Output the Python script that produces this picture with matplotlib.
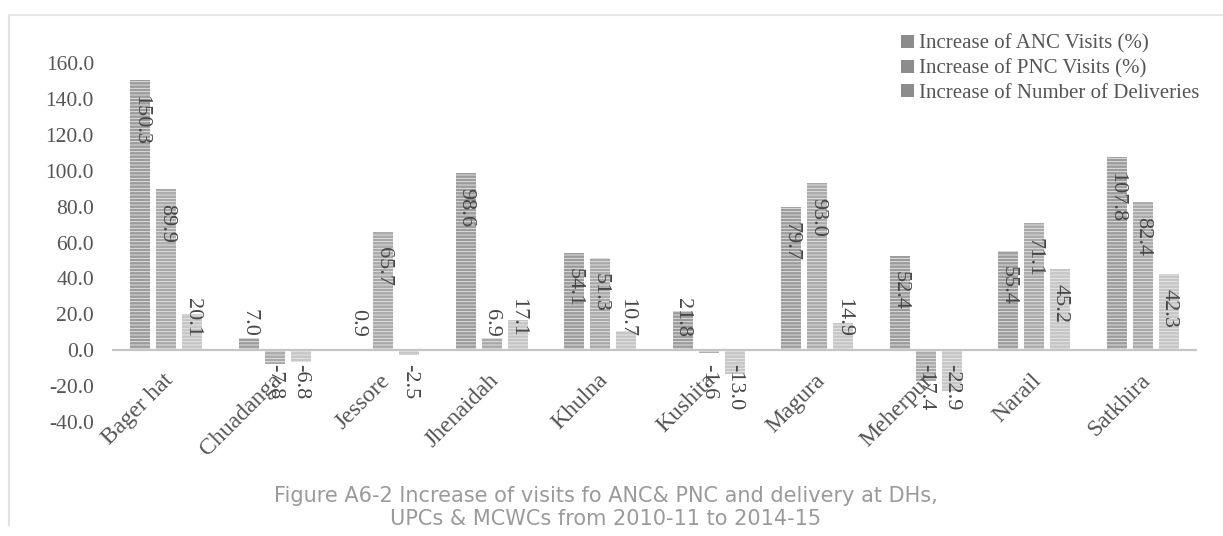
import numpy as np
import matplotlib.pyplot as plt
from matplotlib.patches import Patch
from matplotlib.lines import Line2D

# === Data ===
districts = ["Bager hat", "Chuadanga", "Jessore", "Jhenaidah", "Khulna",
             "Kushita", "Magura", "Meherpur", "Narail", "Satkhira"]
anc_visits = [150.3, 7.0, 0.9, 98.6, 54.1, 21.8, 79.7, 52.4, 55.4, 107.8]
pnc_visits = [89.9, -7.8, 65.7, 6.9, 51.3, -1.6, 93.0, -17.4, 71.1, 82.4]
deliveries = [20.1, -6.8, -2.5, 17.1, 10.7, -13.0, 14.9, -22.9, 45.2, 42.3]
series_names = ["Increase of ANC Visits (%)", "Increase of PNC Visits (%)",
                "Increase of Number of Deliveries"]
yticks = np.arange(-40, 161, 20)

plt.rcParams['font.family'] = ['Liberation Serif', 'DejaVu Serif']
plt.rcParams['hatch.linewidth'] = 0.6

colors = ["#9c9c9c", "#a9a9a9", "#c6c6c6"]
label_color = "#474747"

fig = plt.figure(figsize=(12.23, 5.36), dpi=100)
ax = fig.add_axes([112 / 1223, 114 / 536, 1085 / 1223, 359 / 536])

x = np.arange(len(districts))
offsets = [-0.24, 0.0, 0.24]
width = 0.185

for vals, off, col in zip([anc_visits, pnc_visits, deliveries], offsets, colors):
    ax.bar(x + off, vals, width, color=col, edgecolor="#e8e8e8",
           linewidth=0, hatch="-----", zorder=2)
    for xi, v in zip(x + off, vals):
        txt = f"{v:.1f}"
        if v >= 38:
            ax.text(xi, v - 8.4, txt, rotation=270, ha="center", va="top",
                    fontsize=16, color=label_color, zorder=4)
        elif v >= 0:
            ax.text(xi, 7.5, txt, rotation=270, ha="center", va="bottom",
                    fontsize=16, color=label_color, zorder=4)
        else:
            ax.text(xi, -7.5, txt, rotation=270, ha="center", va="top",
                    fontsize=16, color=label_color, zorder=4)

# zero line
ax.axhline(0, color="#c4c4c4", linewidth=1.6, zorder=3)

ax.set_xlim(-0.5, len(districts) - 0.5)
ax.set_ylim(-40, 160)
ax.set_yticks(yticks)
ax.set_yticklabels([f"{t:.1f}" for t in yticks], fontsize=15.5, color="#555555")
ax.tick_params(axis="y", length=0, pad=13)
ax.set_xticks([])
for s in ax.spines.values():
    s.set_visible(False)

for xi, name in zip(x, districts):
    ax.text(xi - 0.03, -11, name, rotation=45, rotation_mode="anchor",
            ha="right", va="top", fontsize=17, color="#555555")

handles = [Patch(facecolor=c, edgecolor="none") for c in ["#8c8c8c", "#8c8c8c", "#8c8c8c"]]
fig.legend(handles, series_names, loc="upper left",
           bbox_to_anchor=(891 / 1223, 1 - 24 / 536), frameon=False,
           fontsize=15, handlelength=0.6, handleheight=0.6,
           handletextpad=0.25, labelspacing=0.25, borderpad=0,
           labelcolor="#555555")

# caption
fig.text(606 / 1223, 1 - 496 / 536,
         "Figure A6-2 Increase of visits fo ANC& PNC and delivery at DHs,",
         ha="center", va="center", fontsize=15, color="#9a9a9a",
         family=["DejaVu Sans"])
fig.text(606 / 1223, 1 - 519 / 536,
         "UPCs & MCWCs from 2010-11 to 2014-15",
         ha="center", va="center", fontsize=15, color="#9a9a9a",
         family=["DejaVu Sans"])

# faint frame of the scanned figure
fig.add_artist(Line2D([9 / 1223, 9 / 1223], [1 - 525 / 536, 1 - 15 / 536],
                      color="#e2e2e2", linewidth=1.5))
fig.add_artist(Line2D([9 / 1223, 1.0], [1 - 15 / 536, 1 - 15 / 536],
                      color="#e6e6e6", linewidth=1.5))

fig.savefig("out.png", dpi=100)
